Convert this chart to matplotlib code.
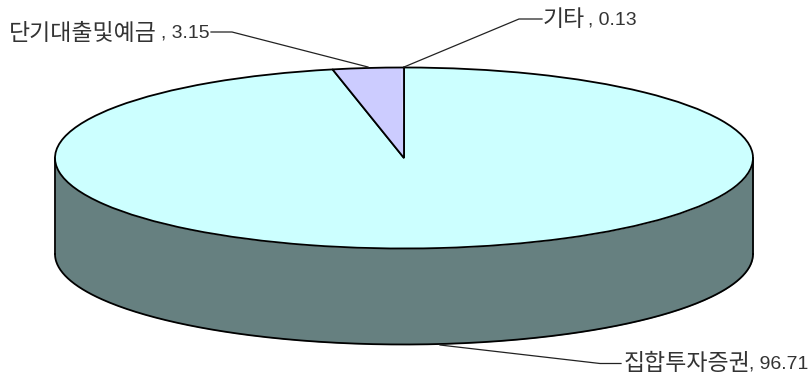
import matplotlib.pyplot as plt
from matplotlib.patches import Wedge
import numpy as np

# clockwise from 12 o'clock
labels = ['집합투자증권', '단기대출및예금', '기타']
values = [96.71, 3.15, 0.13]
colors = ['#CCFFFF', '#CCCCFF', '#CCCCFF']

W, H = 811, 376
cx, cy = 404, 158
rx, ry = 349, 90.5
depth = 96

plt.rcParams['font.family'] = ['Liberation Sans', 'Noto Sans CJK KR']

fig = plt.figure(figsize=(W / 100, H / 100), dpi=100)

# pie axes: the unit circle maps onto the top ellipse
ax = fig.add_axes([(cx - rx) / W, 1 - (cy + ry) / H, 2 * rx / W, 2 * ry / H])
t = np.linspace(np.pi, 2 * np.pi, 300)
ax.fill_between(np.cos(t), np.sin(t), np.sin(t) - depth / ry, color='#668080',
                lw=0, clip_on=False, zorder=1)
ax.plot(np.cos(t), np.sin(t) - depth / ry, color='k', lw=1.3, clip_on=False, zorder=2)
ax.plot([-1, -1], [0, -depth / ry], color='k', lw=1.3, clip_on=False, zorder=2)
ax.plot([1, 1], [0, -depth / ry], color='k', lw=1.3, clip_on=False, zorder=2)
wedges, _ = ax.pie(values, colors=colors, startangle=90, counterclock=False, radius=1,
                   wedgeprops={'edgecolor': 'k', 'linewidth': 1.3, 'zorder': 3})
ax.set_aspect('auto')
ax.set_xlim(-1, 1)
ax.set_ylim(-1, 1)
for w in wedges:
    w.set_clip_on(False)

# the 0.13 sliver shows no edge of its own, outline it together with its neighbour
wedges[1].set_edgecolor('none')
wedges[2].set_edgecolor('none')
ax.add_patch(Wedge((0, 0), 1, wedges[2].theta1, wedges[1].theta2, fc='none', ec='k',
                   lw=1.3, zorder=4, clip_on=False))

# overlay in pixel coordinates for the leader lines and labels
ov = fig.add_axes([0, 0, 1, 1])
ov.set_xlim(0, W)
ov.set_ylim(H, 0)
ov.axis('off')

ov.plot([440, 600, 621], [345, 363.5, 363.5], color='#222222', lw=0.9)
ov.plot([211, 232, 368], [32, 32, 67], color='#222222', lw=0.9)
ov.plot([404, 519, 542], [67, 19, 19], color='#222222', lw=0.9)

# hangul and number set apart, the hangul runs wider than the digits
label_pos = [(624, 808, 364), (9, 210, 33), (543, 637, 20)]
for name, val, (x0, x1, y) in zip(labels, values, label_pos):
    ov.text(x0, y, name, fontsize=16.5, va='center', ha='left', color='#333333')
    ov.text(x1, y, f', {val}', fontsize=14, va='center', ha='right', color='#333333')

fig.savefig('out.png', dpi=100)
